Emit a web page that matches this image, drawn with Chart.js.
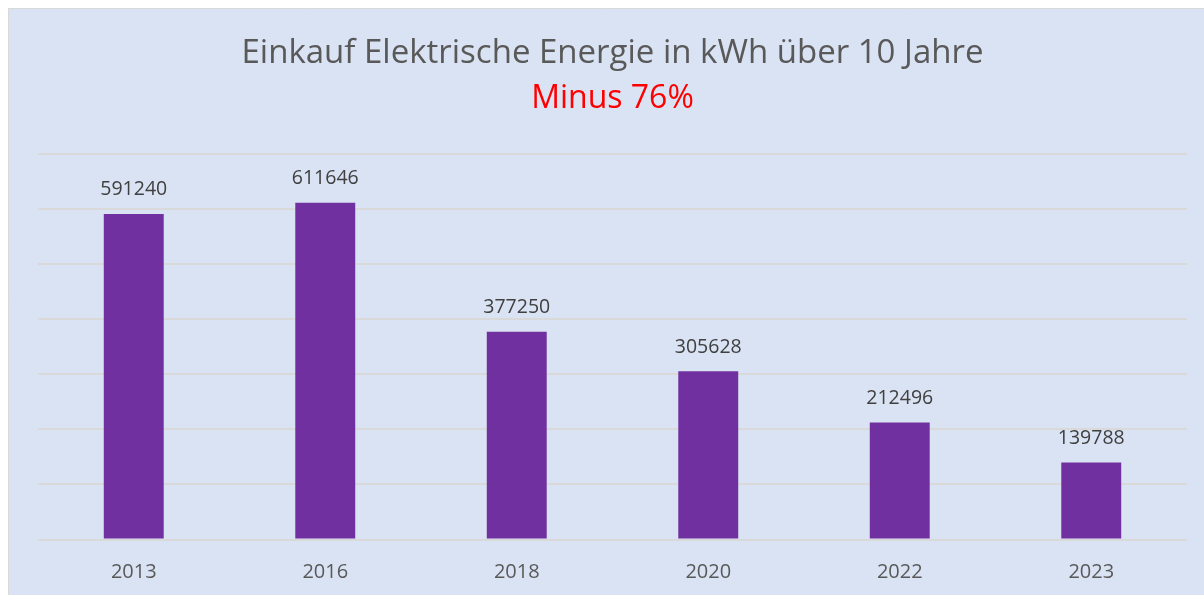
<!DOCTYPE html>
<html>
<head>
<meta charset="utf-8">
<script src="https://cdn.jsdelivr.net/npm/chart.js@4/dist/chart.umd.min.js"></script>
<style>
  html, body { margin: 0; padding: 0; background: #ffffff; }
  #wrap { width: 1204px; height: 595px; position: relative; }
</style>
</head>
<body>
<div id="wrap"><canvas id="chart" width="1204" height="595"></canvas></div>
<script>
const years = ['2013', '2016', '2018', '2020', '2022', '2023'];
const kwh = [591240, 611646, 377250, 305628, 212496, 139788];
const titleText = 'Einkauf Elektrische Energie in kWh über 10 Jahre';
const subtitleText = 'Minus 76%';

// panel background with thin border, like the office chart frame
const panelBg = {
    id: 'panelBg',
    beforeDraw(chart) {
        const ctx = chart.ctx;
        ctx.save();
        ctx.fillStyle = '#ffffff';
        ctx.fillRect(0, 0, chart.width, chart.height);
        ctx.fillStyle = '#DAE3F3';
        ctx.fillRect(8, 8, chart.width - 8, chart.height - 8);
        ctx.strokeStyle = '#D9D9D9';
        ctx.lineWidth = 1;
        ctx.beginPath();
        ctx.moveTo(8.5, chart.height);
        ctx.lineTo(8.5, 8.5);
        ctx.lineTo(chart.width, 8.5);
        ctx.stroke();
        ctx.restore();
    }
};

// value labels above each bar
const valueLabels = {
    id: 'valueLabels',
    afterDatasetsDraw(chart) {
        const ctx = chart.ctx;
        const meta = chart.getDatasetMeta(0);
        ctx.save();
        ctx.font = '19.5px "Open Sans"';
        ctx.fillStyle = '#404040';
        ctx.textAlign = 'center';
        ctx.textBaseline = 'middle';
        meta.data.forEach((bar, i) => {
            ctx.fillText(String(kwh[i]), bar.x, bar.y - 24);
        });
        ctx.restore();
    }
};

new Chart(document.getElementById('chart'), {
    type: 'bar',
    data: {
        labels: years,
        datasets: [{
            data: kwh,
            backgroundColor: '#7030A0',
            borderWidth: 0,
            categoryPercentage: 1,
            barPercentage: 0.313
        }]
    },
    options: {
        responsive: false,
        animation: false,
        layout: { padding: { left: 38, right: 17, top: 0, bottom: 0 } },
        plugins: {
            legend: { display: false },
            tooltip: { enabled: false },
            title: {
                display: true,
                text: titleText,
                color: '#595959',
                font: { family: 'Open Sans', size: 33, weight: 'normal' },
                padding: { top: 34, bottom: 6 }
            },
            subtitle: {
                display: true,
                text: subtitleText,
                color: '#FF0000',
                font: { family: 'Open Sans', size: 32, weight: 'normal' },
                padding: { top: 0, bottom: 36 }
            }
        },
        scales: {
            x: {
                grid: { display: false, drawTicks: false },
                border: { display: false },
                ticks: {
                    color: '#595959',
                    font: { family: 'Open Sans', size: 20 },
                    padding: 21
                },
                afterFit(scale) { scale.height = 55.5; }
            },
            y: {
                min: 0,
                max: 700000,
                ticks: { display: false, stepSize: 100000 },
                grid: { color: '#D9D9D9', lineWidth: 2, drawTicks: false },
                border: { display: false }
            }
        }
    },
    plugins: [panelBg, valueLabels]
});
</script>
</body>
</html>
